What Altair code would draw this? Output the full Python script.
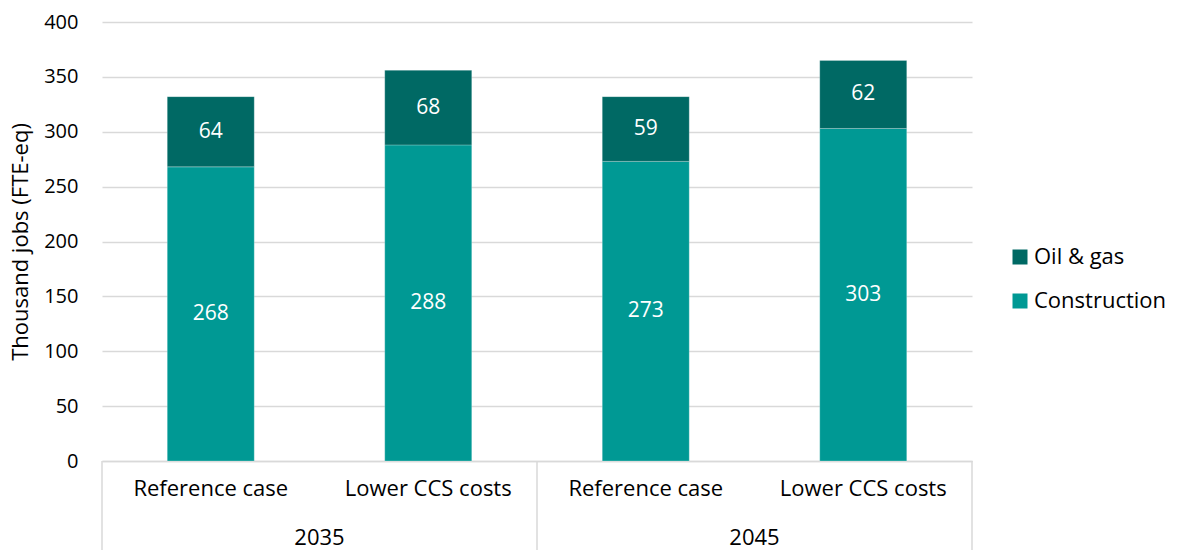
import altair as alt
import pandas as pd

# Employment by scenario and year (thousand jobs, FTE-eq)
years = ["2035", "2035", "2045", "2045"]
scenarios = ["Reference case", "Lower CCS costs", "Reference case", "Lower CCS costs"]
construction = [268, 288, 273, 303]
oil_gas = [64, 68, 59, 62]

series_names = ["Oil & gas", "Construction"]
series_colors = ["#006964", "#009994"]
year_groups = ["2035", "2045"]
y_ticks = [0, 50, 100, 150, 200, 250, 300, 350, 400]

FONT = "Open Sans"
FS = 20      # tick labels
FS_TXT = 22  # category, legend and title text
GRID = "#d9d9d9"
W, H = 870, 439

rows = []
order = []
for yr, sc, c, o in zip(years, scenarios, construction, oil_gas):
    key = f"{yr}|{sc}"
    order.append(key)
    rows.append({"key": key, "series": "Construction", "value": c, "start": 0, "end": c})
    rows.append({"key": key, "series": "Oil & gas", "value": o, "start": c, "end": c + o})
df = pd.DataFrame(rows)
df["mid"] = (df["start"] + df["end"]) / 2

# year groups on a 0..n scale: labels at group centres, separators at edges
groups_df = pd.DataFrame({"year": year_groups, "center": [i + 0.5 for i in range(len(year_groups))]})
edges_df = pd.DataFrame({"edge": list(range(len(year_groups) + 1))})

band = alt.Scale(domain=order, paddingInner=0.6, paddingOuter=0.3)
y_scale = alt.Scale(domain=[0, 400])

x_axis = alt.Axis(title=None, labelExpr="split(datum.label, '|')[1]", labelAngle=0,
                  ticks=False, domainColor=GRID, domainWidth=1.5, labelFontSize=FS_TXT,
                  labelPadding=17, labelColor="#000000", labelFont=FONT)

bars = alt.Chart(df).mark_bar(stroke="white", strokeWidth=0.8, strokeOpacity=0.3).encode(
    x=alt.X("key:N", sort=order, scale=band, axis=x_axis),
    y=alt.Y("start:Q", scale=y_scale,
            axis=alt.Axis(values=y_ticks, title="Thousand jobs (FTE-eq)", domain=False, ticks=False,
                          gridColor=GRID, gridWidth=1.5, labelFontSize=FS, labelPadding=24,
                          labelColor="#000000", titleFontSize=FS_TXT, titleFontWeight="normal",
                          titleColor="#000000", titlePadding=11, labelFont=FONT, titleFont=FONT)),
    y2="end:Q",
    color=alt.Color("series:N", scale=alt.Scale(domain=series_names, range=series_colors),
                    legend=alt.Legend(title=None, orient="none", legendX=907, legendY=224,
                                      symbolType="square", symbolSize=225, symbolStrokeWidth=0,
                                      labelFontSize=FS_TXT, labelFont=FONT, labelColor="#000000",
                                      labelOffset=3, rowPadding=22, padding=0)),
    order=alt.Order("start:Q"),
)

values = alt.Chart(df).mark_text(color="white", fontSize=21, font=FONT, baseline="middle").encode(
    x=alt.X("key:N", sort=order, scale=band, axis=x_axis),
    y=alt.Y("mid:Q", scale=y_scale),
    text="value:Q",
)

year_text = alt.Chart(groups_df).mark_text(fontSize=FS_TXT, font=FONT, baseline="middle", color="#000000").encode(
    x=alt.X("center:Q", scale=alt.Scale(domain=[0, len(year_groups)]), axis=None),
    y=alt.value(H + 77),
    text="year:N",
)

separators = alt.Chart(edges_df).mark_rule(color=GRID, strokeWidth=1.5).encode(
    x=alt.X("edge:Q", scale=alt.Scale(domain=[0, len(year_groups)]), axis=None),
    y=alt.value(H),
    y2=alt.value(H + 95),
)

chart = alt.layer(
    alt.layer(bars, values),
    alt.layer(separators, year_text),
).resolve_scale(x="independent").properties(
    width=W, height=H, padding={"left": 9, "top": 12, "right": 5, "bottom": 0}
).configure(font=FONT).configure_view(strokeWidth=0)

chart.save("out.html", embed_options={"renderer": "svg", "actions": False})
